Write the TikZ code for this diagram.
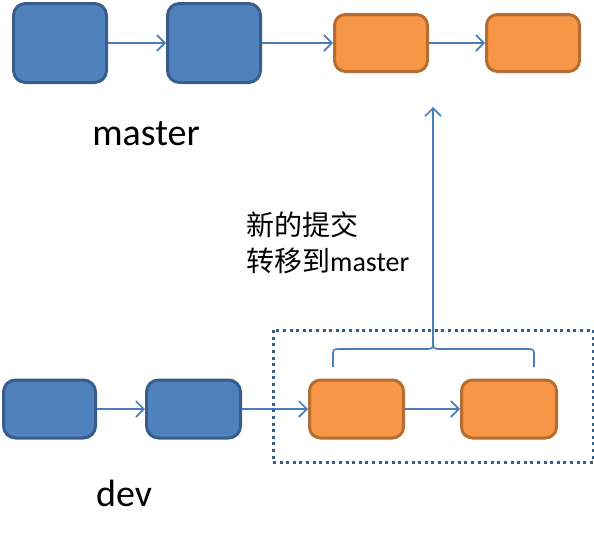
\documentclass[tikz,border=0pt]{standalone}
\usepackage{fontspec}
\setmainfont{Carlito}
\newfontfamily\cjk{Noto Sans CJK SC}
\usetikzlibrary{arrows.meta}
\definecolor{bfill}{HTML}{4F81BD}
\definecolor{bline}{HTML}{385D8A}
\definecolor{ofill}{HTML}{F79646}
\definecolor{oline}{HTML}{B66D31}
\definecolor{arr}{HTML}{4A7EBB}
\tikzset{
  bluebox/.style={draw=bline, fill=bfill, line width=3pt, rounded corners=12pt, inner sep=0pt},
  orangebox/.style={draw=oline, fill=ofill, line width=3pt, rounded corners=11pt, inner sep=0pt},
  conn/.style={draw=arr, line width=1.6pt, -{Straight Barb[length=8pt,width=16pt,line width=1.6pt]}},
  lbl/.style={font=\fontsize{38}{44}\selectfont, inner sep=0pt},
  note/.style={font=\fontsize{28}{36}\selectfont, align=left, inner sep=0pt, anchor=north west},
}
\begin{document}
\begin{tikzpicture}[x=1pt,y=-1pt]
\useasboundingbox (0,0) rectangle (594,538);
% top row
\node[bluebox, minimum width=93pt, minimum height=79pt] (t1) at (60,43) {};
\node[bluebox, minimum width=93pt, minimum height=79pt] (t2) at (214,43) {};
\node[orangebox, minimum width=93pt, minimum height=57pt] (t3) at (381,43) {};
\node[orangebox, minimum width=93pt, minimum height=57pt] (t4) at (533,43) {};
\draw[conn] (t1) -- (t2);
\draw[conn] (t2) -- (t3);
\draw[conn] (t3) -- (t4);
\node[lbl] (master) at (146,134) {master};
% bottom row
\node[bluebox, minimum width=92pt, minimum height=58pt] (b1) at (49.5,409) {};
\node[bluebox, minimum width=94pt, minimum height=58pt] (b2) at (193.5,409) {};
\node[orangebox, minimum width=94pt, minimum height=58pt] (b3) at (356.5,409) {};
\node[orangebox, minimum width=95pt, minimum height=58pt] (b4) at (509,409) {};
\draw[conn] (b1) -- (b2);
\draw[conn] (b2) -- (b3);
\draw[conn] (b3) -- (b4);
\node[lbl] (dev) at (124,493) {dev};
% dotted frame
\node[draw=bline, line width=3pt, dash pattern=on 3pt off 3.6pt, minimum width=320pt, minimum height=132pt, inner sep=0pt] (frame) at (433,396) {};
% brace
\coordinate (bl) at (333,367);
\coordinate (br) at (534,367);
\coordinate (btip) at (433,340);
\draw[draw=arr, line width=1.6pt] (bl) -- (333,356) .. controls (333,349) .. (341,349) -- (425,349) .. controls (433,349) .. (433,340)
  .. controls (433,349) .. (441,349) -- (526,349) .. controls (534,349) .. (534,356) -- (br);
\coordinate (top) at (433,107);
\draw[conn] (btip) -- (top);
\node[note] (txt) at (246,212) {{\cjk 新的提交}\\{\cjk 转移到}master};
\end{tikzpicture}
\end{document}
